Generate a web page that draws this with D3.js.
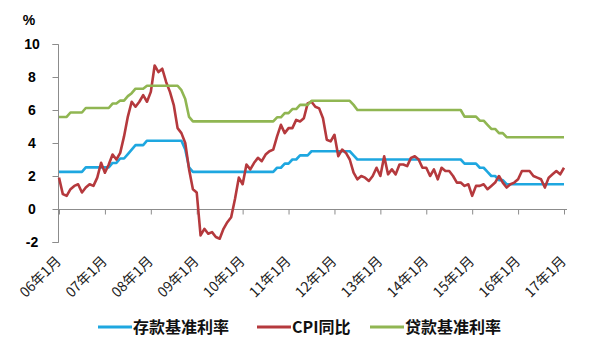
<!DOCTYPE html>
<html>
<head>
<meta charset="utf-8">
<script src="https://cdn.jsdelivr.net/npm/d3@7"></script>
<style>
  body { margin: 0; background: #fff; }
  svg { display: block; }
</style>
</head>
<body>
<div id="chart"></div>
<script>
// monthly data, 2006-01 .. 2017-01
var tickLabels = ["06年1月", "07年1月", "08年1月", "09年1月", "10年1月", "11年1月",
    "12年1月", "13年1月", "14年1月", "15年1月", "16年1月", "17年1月"];
var yTicks = [-2, 0, 2, 4, 6, 8, 10];
var seriesNames = ["存款基准利率", "CPI同比", "贷款基准利率"];

var deposit = [
    2.25,2.25,2.25,2.25,2.25,2.25,2.25,2.52,2.52,2.52,2.52,2.52,
    2.52,2.52,2.79,2.79,3.06,3.06,3.33,3.60,3.87,3.87,3.87,4.14,
    4.14,4.14,4.14,4.14,4.14,4.14,4.14,4.14,4.14,3.60,2.52,2.25,
    2.25,2.25,2.25,2.25,2.25,2.25,2.25,2.25,2.25,2.25,2.25,2.25,
    2.25,2.25,2.25,2.25,2.25,2.25,2.25,2.25,2.25,2.50,2.50,2.75,
    2.75,3.00,3.00,3.25,3.25,3.25,3.50,3.50,3.50,3.50,3.50,3.50,
    3.50,3.50,3.50,3.50,3.50,3.25,3.00,3.00,3.00,3.00,3.00,3.00,
    3.00,3.00,3.00,3.00,3.00,3.00,3.00,3.00,3.00,3.00,3.00,3.00,
    3.00,3.00,3.00,3.00,3.00,3.00,3.00,3.00,3.00,3.00,2.75,2.75,
    2.75,2.75,2.50,2.50,2.25,2.00,2.00,1.75,1.75,1.50,1.50,1.50,
    1.50,1.50,1.50,1.50,1.50,1.50,1.50,1.50,1.50,1.50,1.50,1.50,
    1.50
];
var cpi = [
    1.9,0.9,0.8,1.2,1.4,1.5,1.0,1.3,1.5,1.4,1.9,2.8,
    2.2,2.7,3.3,3.0,3.4,4.4,5.6,6.5,6.2,6.5,6.9,6.5,
    7.1,8.7,8.3,8.5,7.7,7.1,6.3,4.9,4.6,4.0,2.4,1.2,
    1.0,-1.6,-1.2,-1.5,-1.4,-1.7,-1.8,-1.2,-0.8,-0.5,0.6,1.9,
    1.5,2.7,2.4,2.8,3.1,2.9,3.3,3.5,3.6,4.4,5.1,4.6,
    4.9,4.9,5.4,5.3,5.5,6.4,6.5,6.2,6.1,5.5,4.2,4.1,
    4.5,3.2,3.6,3.4,3.0,2.2,1.8,2.0,1.9,1.7,2.0,2.5,
    2.0,3.2,2.1,2.4,2.1,2.7,2.7,2.6,3.1,3.2,3.0,2.5,
    2.5,2.0,2.4,1.8,2.5,2.3,2.3,2.0,1.6,1.6,1.4,1.5,
    0.8,1.4,1.4,1.5,1.2,1.4,1.6,2.0,1.6,1.3,1.5,1.6,
    1.8,2.3,2.3,2.3,2.0,1.9,1.8,1.3,1.9,2.1,2.3,2.1,
    2.5
];
var loan = [
    5.58,5.58,5.58,5.85,5.85,5.85,5.85,6.12,6.12,6.12,6.12,6.12,
    6.12,6.12,6.39,6.39,6.57,6.57,6.84,7.02,7.29,7.29,7.29,7.47,
    7.47,7.47,7.47,7.47,7.47,7.47,7.47,7.47,7.20,6.66,5.58,5.31,
    5.31,5.31,5.31,5.31,5.31,5.31,5.31,5.31,5.31,5.31,5.31,5.31,
    5.31,5.31,5.31,5.31,5.31,5.31,5.31,5.31,5.31,5.56,5.56,5.81,
    5.81,6.06,6.06,6.31,6.31,6.31,6.56,6.56,6.56,6.56,6.56,6.56,
    6.56,6.56,6.56,6.56,6.56,6.31,6.00,6.00,6.00,6.00,6.00,6.00,
    6.00,6.00,6.00,6.00,6.00,6.00,6.00,6.00,6.00,6.00,6.00,6.00,
    6.00,6.00,6.00,6.00,6.00,6.00,6.00,6.00,6.00,6.00,5.60,5.60,
    5.60,5.60,5.35,5.35,5.10,4.85,4.85,4.60,4.60,4.35,4.35,4.35,
    4.35,4.35,4.35,4.35,4.35,4.35,4.35,4.35,4.35,4.35,4.35,4.35,
    4.35
];

var colors = ["#1ea7e0", "#b5393d", "#90b652"];
var series = [deposit, cpi, loan];

var svgWidth = 600;
var svgHeight = 361;

var svg = d3.select("#chart")
    .append("svg")
    .attr("width", svgWidth)
    .attr("height", svgHeight)
    .style("background", "#fff");

var x = d3.scaleLinear().domain([0, 132]).range([59, 564]);
var y = d3.scaleLinear().domain([-2, 10]).range([242, 44]);

var axisColor = "#8c8c8c";
var numFont = "'Liberation Sans', Arial, sans-serif";
var cjkFont = "'Noto Sans CJK SC', sans-serif";

// y axis
var leftAxis = d3.axisLeft(y).tickValues(yTicks).tickSize(6).tickFormat("");
var gy = svg.append("g")
    .attr("transform", "translate(58.5,0)")
    .call(leftAxis);
gy.select(".domain").attr("stroke", axisColor).attr("d", "M-6," + (y(-2) + 0.5) + "H0V" + (y(10) + 0.5) + "H-6");
gy.selectAll(".tick line").attr("stroke", axisColor);

svg.append("g")
    .selectAll("text")
    .data(yTicks)
    .enter()
    .append("text")
    .attr("x", 32)
    .attr("y", function(d) { return y(d) + 5; })
    .attr("text-anchor", "middle")
    .style("font-family", numFont)
    .style("font-weight", "bold")
    .style("font-size", "14px")
    .text(function(d) { return d; });

svg.append("text")
    .attr("x", 29)
    .attr("y", 25)
    .attr("text-anchor", "middle")
    .style("font-family", numFont)
    .style("font-weight", "bold")
    .style("font-size", "14px")
    .text("%");

// x axis at zero
var tickIdx = tickLabels.map(function(d, i) { return i * 12; });
var bottomAxis = d3.axisBottom(x).tickValues(tickIdx).tickSize(5).tickFormat("");
var gx = svg.append("g")
    .attr("transform", "translate(0," + (y(0) + 0.5) + ")")
    .call(bottomAxis);
gx.select(".domain").attr("stroke", axisColor).attr("d", "M58,0H567");
gx.selectAll(".tick line").attr("stroke", axisColor);

svg.append("g")
    .selectAll("text")
    .data(tickLabels)
    .enter()
    .append("text")
    .attr("transform", function(d, i) {
        return "translate(" + (x(i * 12) + 3) + ",262) rotate(-45)";
    })
    .attr("text-anchor", "end")
    .style("font-family", cjkFont)
    .style("font-size", "14px")
    .style("fill", "#222")
    .text(function(d) { return d; });

// lines
var line = d3.line()
    .x(function(d, i) { return x(i); })
    .y(function(d) { return y(d); });

svg.append("g")
    .selectAll("path")
    .data(series)
    .enter()
    .append("path")
    .attr("d", line)
    .attr("fill", "none")
    .attr("stroke", function(d, i) { return colors[i]; })
    .attr("stroke-width", 2.6)
    .attr("stroke-linejoin", "round");

// legend
var legendX = [98, 257, 370];
var legend = svg.append("g")
    .selectAll("g")
    .data(seriesNames)
    .enter()
    .append("g")
    .attr("transform", function(d, i) { return "translate(" + legendX[i] + ",327)"; });
legend.append("line")
    .attr("x1", 0).attr("x2", 34)
    .attr("stroke", function(d, i) { return colors[i]; })
    .attr("stroke-width", 3);
legend.append("text")
    .attr("x", 35)
    .attr("y", 6)
    .style("font-family", cjkFont)
    .style("font-weight", "bold")
    .style("font-size", "16px")
    .style("fill", "#111")
    .text(function(d) { return d; });
</script>
</body>
</html>
